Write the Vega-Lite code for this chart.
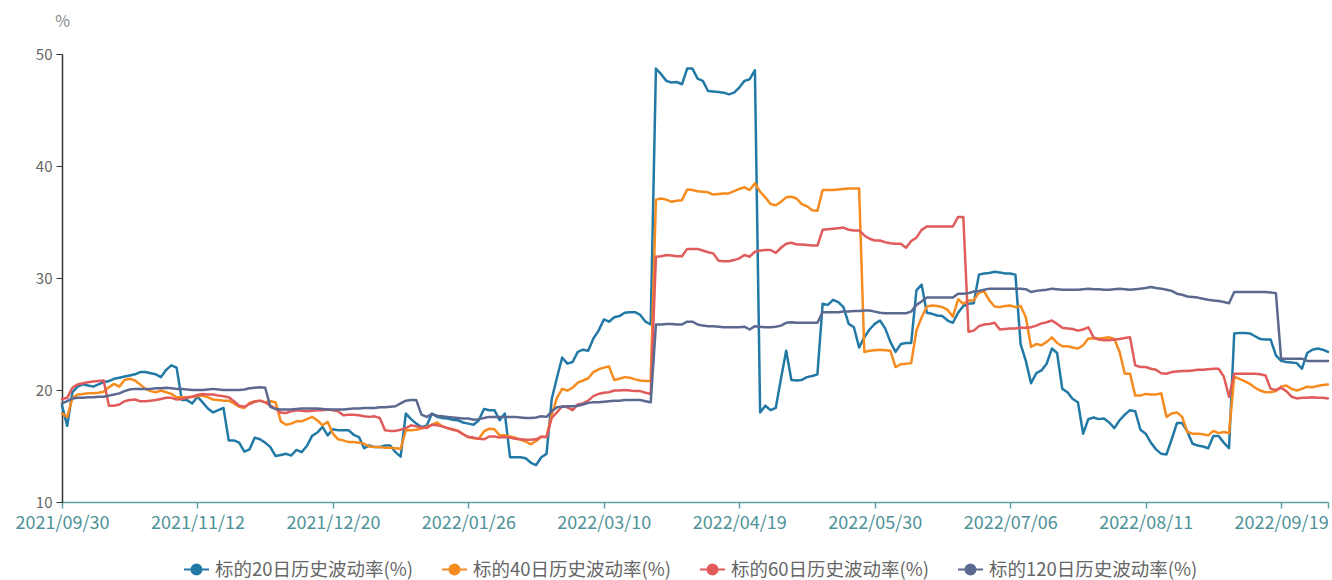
{
"$schema":"https://vega.github.io/schema/vega-lite/v6.json",
"width":1266,"height":448,
"autosize":{"type":"none"},
"padding":{"left":62,"top":54,"right":4,"bottom":78},
"background":"white",
"config":{"view":{"stroke":null},"font":"Noto Sans CJK SC"},
"data":{"values":[
{"d":"2021/09/30","a":18.6,"b":17.9,"c":19.2,"e":18.8},
{"d":"2021/10/08","a":16.8,"b":17.6,"c":19.3,"e":19.0},
{"d":"2021/10/11","a":19.8,"b":19.3,"c":20.2,"e":19.25},
{"d":"2021/10/12","a":20.3,"b":19.6,"c":20.5,"e":19.3},
{"d":"2021/10/13","a":20.5,"b":19.65,"c":20.6,"e":19.3},
{"d":"2021/10/14","a":20.4,"b":19.7,"c":20.7,"e":19.35},
{"d":"2021/10/15","a":20.3,"b":19.7,"c":20.75,"e":19.35},
{"d":"2021/10/18","a":20.5,"b":19.75,"c":20.8,"e":19.4},
{"d":"2021/10/19","a":20.7,"b":19.85,"c":20.85,"e":19.4},
{"d":"2021/10/20","a":20.8,"b":20.25,"c":18.6,"e":19.5},
{"d":"2021/10/21","a":21.0,"b":20.55,"c":18.6,"e":19.6},
{"d":"2021/10/22","a":21.1,"b":20.3,"c":18.7,"e":19.7},
{"d":"2021/10/25","a":21.2,"b":20.9,"c":19.0,"e":19.9},
{"d":"2021/10/26","a":21.3,"b":21.0,"c":19.1,"e":20.05},
{"d":"2021/10/27","a":21.4,"b":20.85,"c":19.15,"e":20.1},
{"d":"2021/10/28","a":21.6,"b":20.5,"c":19.0,"e":20.1},
{"d":"2021/10/29","a":21.6,"b":20.1,"c":19.0,"e":20.1},
{"d":"2021/11/01","a":21.5,"b":19.9,"c":19.05,"e":20.1},
{"d":"2021/11/02","a":21.4,"b":19.8,"c":19.1,"e":20.15},
{"d":"2021/11/03","a":21.15,"b":19.95,"c":19.2,"e":20.15},
{"d":"2021/11/04","a":21.8,"b":19.8,"c":19.3,"e":20.2},
{"d":"2021/11/05","a":22.2,"b":19.65,"c":19.3,"e":20.15},
{"d":"2021/11/08","a":22.0,"b":19.35,"c":19.15,"e":20.1},
{"d":"2021/11/09","a":19.1,"b":19.35,"c":19.2,"e":20.1},
{"d":"2021/11/10","a":19.1,"b":19.35,"c":19.3,"e":20.05},
{"d":"2021/11/11","a":18.8,"b":19.4,"c":19.4,"e":20.0},
{"d":"2021/11/12","a":19.4,"b":19.45,"c":19.55,"e":20.0},
{"d":"2021/11/15","a":18.9,"b":19.5,"c":19.65,"e":20.0},
{"d":"2021/11/16","a":18.35,"b":19.35,"c":19.6,"e":20.05},
{"d":"2021/11/17","a":18.0,"b":19.15,"c":19.6,"e":20.1},
{"d":"2021/11/18","a":18.2,"b":19.1,"c":19.5,"e":20.05},
{"d":"2021/11/19","a":18.4,"b":19.05,"c":19.45,"e":20.0},
{"d":"2021/11/22","a":15.5,"b":19.05,"c":19.35,"e":20.0},
{"d":"2021/11/23","a":15.5,"b":18.8,"c":19.0,"e":20.0},
{"d":"2021/11/24","a":15.3,"b":18.5,"c":18.6,"e":20.0},
{"d":"2021/11/25","a":14.5,"b":18.4,"c":18.5,"e":20.05},
{"d":"2021/11/26","a":14.7,"b":18.85,"c":18.75,"e":20.15},
{"d":"2021/11/29","a":15.75,"b":19.0,"c":18.95,"e":20.2},
{"d":"2021/11/30","a":15.6,"b":19.05,"c":19.05,"e":20.25},
{"d":"2021/12/01","a":15.3,"b":18.9,"c":18.9,"e":20.2},
{"d":"2021/12/02","a":14.9,"b":19.0,"c":18.6,"e":18.5},
{"d":"2021/12/03","a":14.1,"b":18.9,"c":18.35,"e":18.3},
{"d":"2021/12/06","a":14.2,"b":17.2,"c":18.0,"e":18.25},
{"d":"2021/12/07","a":14.3,"b":16.9,"c":17.95,"e":18.25},
{"d":"2021/12/08","a":14.15,"b":17.0,"c":18.1,"e":18.25},
{"d":"2021/12/09","a":14.65,"b":17.2,"c":18.2,"e":18.3},
{"d":"2021/12/10","a":14.45,"b":17.2,"c":18.15,"e":18.35},
{"d":"2021/12/13","a":15.0,"b":17.4,"c":18.1,"e":18.35},
{"d":"2021/12/14","a":15.9,"b":17.6,"c":18.15,"e":18.35},
{"d":"2021/12/15","a":16.2,"b":17.3,"c":18.2,"e":18.35},
{"d":"2021/12/16","a":16.7,"b":16.85,"c":18.2,"e":18.3},
{"d":"2021/12/17","a":15.95,"b":17.15,"c":18.25,"e":18.25},
{"d":"2021/12/20","a":16.5,"b":16.1,"c":18.2,"e":18.25},
{"d":"2021/12/21","a":16.4,"b":15.6,"c":18.1,"e":18.25},
{"d":"2021/12/22","a":16.4,"b":15.5,"c":17.75,"e":18.25},
{"d":"2021/12/23","a":16.4,"b":15.35,"c":17.8,"e":18.3},
{"d":"2021/12/24","a":16.0,"b":15.35,"c":17.8,"e":18.35},
{"d":"2021/12/27","a":15.8,"b":15.3,"c":17.75,"e":18.35},
{"d":"2021/12/28","a":14.8,"b":15.2,"c":17.65,"e":18.4},
{"d":"2021/12/29","a":15.05,"b":14.95,"c":17.6,"e":18.4},
{"d":"2021/12/30","a":14.9,"b":14.9,"c":17.65,"e":18.4},
{"d":"2021/12/31","a":14.9,"b":14.9,"c":17.5,"e":18.45},
{"d":"2022/01/04","a":15.05,"b":14.85,"c":16.4,"e":18.45},
{"d":"2022/01/05","a":15.05,"b":14.85,"c":16.35,"e":18.5},
{"d":"2022/01/06","a":14.45,"b":14.8,"c":16.35,"e":18.55},
{"d":"2022/01/07","a":14.05,"b":14.75,"c":16.45,"e":18.8},
{"d":"2022/01/10","a":17.9,"b":16.4,"c":16.6,"e":19.05},
{"d":"2022/01/11","a":17.4,"b":16.4,"c":16.85,"e":19.1},
{"d":"2022/01/12","a":17.0,"b":16.45,"c":16.75,"e":19.1},
{"d":"2022/01/13","a":16.7,"b":16.55,"c":16.65,"e":17.8},
{"d":"2022/01/14","a":16.8,"b":16.7,"c":16.6,"e":17.6},
{"d":"2022/01/17","a":17.9,"b":16.9,"c":16.9,"e":17.85},
{"d":"2022/01/18","a":17.6,"b":17.1,"c":16.85,"e":17.7},
{"d":"2022/01/19","a":17.5,"b":16.75,"c":16.75,"e":17.65},
{"d":"2022/01/20","a":17.45,"b":16.6,"c":16.6,"e":17.6},
{"d":"2022/01/21","a":17.35,"b":16.5,"c":16.45,"e":17.55},
{"d":"2022/01/24","a":17.3,"b":16.35,"c":16.35,"e":17.5},
{"d":"2022/01/25","a":17.1,"b":16.05,"c":16.05,"e":17.45},
{"d":"2022/01/26","a":17.0,"b":15.8,"c":15.8,"e":17.45},
{"d":"2022/01/27","a":16.9,"b":15.7,"c":15.75,"e":17.35},
{"d":"2022/01/28","a":17.3,"b":15.65,"c":15.65,"e":17.4},
{"d":"2022/02/07","a":18.3,"b":16.3,"c":15.6,"e":17.5},
{"d":"2022/02/08","a":18.2,"b":16.55,"c":15.85,"e":17.6},
{"d":"2022/02/09","a":18.2,"b":16.5,"c":15.85,"e":17.6},
{"d":"2022/02/10","a":17.3,"b":15.95,"c":15.75,"e":17.6},
{"d":"2022/02/11","a":17.9,"b":15.95,"c":15.8,"e":17.6},
{"d":"2022/02/14","a":14.0,"b":15.85,"c":15.75,"e":17.6},
{"d":"2022/02/15","a":14.0,"b":15.75,"c":15.65,"e":17.6},
{"d":"2022/02/16","a":14.0,"b":15.55,"c":15.6,"e":17.55},
{"d":"2022/02/17","a":13.9,"b":15.4,"c":15.55,"e":17.5},
{"d":"2022/02/18","a":13.5,"b":15.15,"c":15.55,"e":17.5},
{"d":"2022/02/21","a":13.3,"b":15.45,"c":15.6,"e":17.55},
{"d":"2022/02/22","a":14.0,"b":15.8,"c":15.85,"e":17.65},
{"d":"2022/02/23","a":14.3,"b":15.8,"c":15.8,"e":17.6},
{"d":"2022/02/24","a":19.2,"b":17.8,"c":17.5,"e":18.1},
{"d":"2022/02/25","a":21.1,"b":19.3,"c":18.0,"e":18.45},
{"d":"2022/02/28","a":22.9,"b":20.1,"c":18.55,"e":18.5},
{"d":"2022/03/01","a":22.35,"b":19.95,"c":18.45,"e":18.55},
{"d":"2022/03/02","a":22.5,"b":20.2,"c":18.2,"e":18.55},
{"d":"2022/03/03","a":23.4,"b":20.65,"c":18.7,"e":18.6},
{"d":"2022/03/04","a":23.6,"b":20.85,"c":18.8,"e":18.7},
{"d":"2022/03/07","a":23.5,"b":21.05,"c":19.05,"e":18.85},
{"d":"2022/03/08","a":24.6,"b":21.6,"c":19.45,"e":18.9},
{"d":"2022/03/09","a":25.3,"b":21.85,"c":19.65,"e":18.9},
{"d":"2022/03/10","a":26.3,"b":22.0,"c":19.75,"e":18.95},
{"d":"2022/03/11","a":26.1,"b":22.1,"c":19.8,"e":19.0},
{"d":"2022/03/14","a":26.5,"b":20.9,"c":19.95,"e":19.05},
{"d":"2022/03/15","a":26.6,"b":21.0,"c":19.95,"e":19.05},
{"d":"2022/03/16","a":26.9,"b":21.15,"c":20.0,"e":19.1},
{"d":"2022/03/17","a":26.95,"b":21.1,"c":19.95,"e":19.1},
{"d":"2022/03/18","a":26.95,"b":20.95,"c":19.9,"e":19.1},
{"d":"2022/03/21","a":26.7,"b":20.85,"c":19.9,"e":19.1},
{"d":"2022/03/22","a":26.1,"b":20.8,"c":19.75,"e":19.0},
{"d":"2022/03/23","a":25.85,"b":20.8,"c":19.65,"e":18.9},
{"d":"2022/03/24","a":48.7,"b":37.0,"c":31.9,"e":25.85},
{"d":"2022/03/25","a":48.2,"b":37.1,"c":31.95,"e":25.85},
{"d":"2022/03/28","a":47.6,"b":37.0,"c":32.05,"e":25.9},
{"d":"2022/03/29","a":47.45,"b":36.8,"c":32.0,"e":25.9},
{"d":"2022/03/30","a":47.5,"b":36.9,"c":31.95,"e":25.85},
{"d":"2022/03/31","a":47.3,"b":36.95,"c":31.95,"e":25.85},
{"d":"2022/04/01","a":48.7,"b":37.9,"c":32.6,"e":26.1},
{"d":"2022/04/06","a":48.7,"b":37.85,"c":32.6,"e":26.1},
{"d":"2022/04/07","a":47.8,"b":37.75,"c":32.6,"e":25.85},
{"d":"2022/04/08","a":47.6,"b":37.7,"c":32.45,"e":25.75},
{"d":"2022/04/11","a":46.7,"b":37.65,"c":32.3,"e":25.7},
{"d":"2022/04/12","a":46.65,"b":37.45,"c":32.2,"e":25.7},
{"d":"2022/04/13","a":46.6,"b":37.5,"c":31.55,"e":25.65},
{"d":"2022/04/14","a":46.55,"b":37.55,"c":31.5,"e":25.6},
{"d":"2022/04/15","a":46.4,"b":37.55,"c":31.5,"e":25.6},
{"d":"2022/04/18","a":46.55,"b":37.75,"c":31.6,"e":25.6},
{"d":"2022/04/19","a":47.0,"b":37.95,"c":31.75,"e":25.6},
{"d":"2022/04/20","a":47.6,"b":38.1,"c":32.05,"e":25.65},
{"d":"2022/04/21","a":47.75,"b":37.85,"c":31.9,"e":25.4},
{"d":"2022/04/22","a":48.55,"b":38.45,"c":32.35,"e":25.7},
{"d":"2022/04/25","a":18.0,"b":37.7,"c":32.45,"e":25.65},
{"d":"2022/04/26","a":18.6,"b":37.2,"c":32.5,"e":25.6},
{"d":"2022/04/27","a":18.2,"b":36.6,"c":32.5,"e":25.6},
{"d":"2022/04/28","a":18.4,"b":36.5,"c":32.25,"e":25.65},
{"d":"2022/04/29","a":21.0,"b":36.8,"c":32.7,"e":25.75},
{"d":"2022/05/05","a":23.5,"b":37.2,"c":33.05,"e":26.0},
{"d":"2022/05/06","a":20.9,"b":37.25,"c":33.15,"e":26.05},
{"d":"2022/05/09","a":20.85,"b":37.1,"c":33.0,"e":26.0},
{"d":"2022/05/10","a":20.9,"b":36.6,"c":33.0,"e":26.0},
{"d":"2022/05/11","a":21.15,"b":36.4,"c":32.95,"e":26.0},
{"d":"2022/05/12","a":21.25,"b":36.05,"c":32.9,"e":26.0},
{"d":"2022/05/13","a":21.4,"b":36.0,"c":32.9,"e":26.0},
{"d":"2022/05/16","a":27.7,"b":37.85,"c":34.3,"e":26.95},
{"d":"2022/05/17","a":27.6,"b":37.85,"c":34.35,"e":26.95},
{"d":"2022/05/18","a":28.05,"b":37.85,"c":34.4,"e":26.95},
{"d":"2022/05/19","a":27.85,"b":37.9,"c":34.45,"e":26.95},
{"d":"2022/05/20","a":27.4,"b":37.95,"c":34.5,"e":27.0},
{"d":"2022/05/23","a":25.9,"b":38.0,"c":34.3,"e":27.0},
{"d":"2022/05/24","a":25.6,"b":38.0,"c":34.25,"e":27.05},
{"d":"2022/05/25","a":23.8,"b":38.0,"c":34.25,"e":27.05},
{"d":"2022/05/26","a":24.7,"b":23.4,"c":33.8,"e":27.1},
{"d":"2022/05/27","a":25.4,"b":23.5,"c":33.5,"e":27.1},
{"d":"2022/05/30","a":25.9,"b":23.55,"c":33.35,"e":27.0},
{"d":"2022/05/31","a":26.2,"b":23.6,"c":33.35,"e":26.9},
{"d":"2022/06/01","a":25.5,"b":23.55,"c":33.2,"e":26.85},
{"d":"2022/06/02","a":24.3,"b":23.5,"c":33.1,"e":26.85},
{"d":"2022/06/06","a":23.4,"b":22.05,"c":33.05,"e":26.85},
{"d":"2022/06/07","a":24.1,"b":22.3,"c":33.05,"e":26.85},
{"d":"2022/06/08","a":24.2,"b":22.35,"c":32.7,"e":26.85},
{"d":"2022/06/09","a":24.2,"b":22.4,"c":33.3,"e":27.0},
{"d":"2022/06/10","a":28.9,"b":25.3,"c":33.6,"e":27.6},
{"d":"2022/06/13","a":29.4,"b":26.5,"c":34.3,"e":27.9},
{"d":"2022/06/14","a":26.9,"b":27.45,"c":34.6,"e":28.25},
{"d":"2022/06/15","a":26.8,"b":27.55,"c":34.6,"e":28.25},
{"d":"2022/06/16","a":26.65,"b":27.5,"c":34.6,"e":28.25},
{"d":"2022/06/17","a":26.6,"b":27.4,"c":34.6,"e":28.25},
{"d":"2022/06/20","a":26.2,"b":27.15,"c":34.6,"e":28.25},
{"d":"2022/06/21","a":26.0,"b":26.55,"c":34.6,"e":28.25},
{"d":"2022/06/22","a":26.9,"b":28.1,"c":35.45,"e":28.6},
{"d":"2022/06/23","a":27.5,"b":27.7,"c":35.45,"e":28.6},
{"d":"2022/06/24","a":27.7,"b":28.0,"c":25.2,"e":28.65},
{"d":"2022/06/27","a":27.75,"b":28.0,"c":25.3,"e":28.8},
{"d":"2022/06/28","a":30.3,"b":28.7,"c":25.7,"e":28.85},
{"d":"2022/06/29","a":30.4,"b":28.8,"c":25.85,"e":28.95},
{"d":"2022/06/30","a":30.45,"b":28.0,"c":25.9,"e":29.05},
{"d":"2022/07/01","a":30.55,"b":27.45,"c":26.0,"e":29.05},
{"d":"2022/07/04","a":30.5,"b":27.4,"c":25.4,"e":29.05},
{"d":"2022/07/05","a":30.4,"b":27.5,"c":25.45,"e":29.05},
{"d":"2022/07/06","a":30.4,"b":27.55,"c":25.5,"e":29.05},
{"d":"2022/07/07","a":30.3,"b":27.4,"c":25.5,"e":29.05},
{"d":"2022/07/08","a":24.1,"b":27.5,"c":25.55,"e":29.05},
{"d":"2022/07/11","a":22.6,"b":26.5,"c":25.55,"e":29.0},
{"d":"2022/07/12","a":20.6,"b":23.85,"c":25.6,"e":28.75},
{"d":"2022/07/13","a":21.5,"b":24.1,"c":25.75,"e":28.85},
{"d":"2022/07/14","a":21.75,"b":24.0,"c":25.95,"e":28.9},
{"d":"2022/07/15","a":22.35,"b":24.3,"c":26.05,"e":28.95},
{"d":"2022/07/18","a":23.7,"b":24.7,"c":26.2,"e":29.05},
{"d":"2022/07/19","a":23.3,"b":24.2,"c":25.9,"e":29.0},
{"d":"2022/07/20","a":20.1,"b":23.9,"c":25.55,"e":28.95},
{"d":"2022/07/21","a":19.8,"b":23.9,"c":25.5,"e":28.95},
{"d":"2022/07/22","a":19.2,"b":23.8,"c":25.45,"e":28.95},
{"d":"2022/07/25","a":18.9,"b":23.7,"c":25.3,"e":28.95},
{"d":"2022/07/26","a":16.1,"b":24.0,"c":25.4,"e":29.0},
{"d":"2022/07/27","a":17.4,"b":24.6,"c":25.6,"e":29.05},
{"d":"2022/07/28","a":17.55,"b":24.6,"c":24.7,"e":29.0},
{"d":"2022/07/29","a":17.4,"b":24.6,"c":24.5,"e":29.0},
{"d":"2022/08/01","a":17.45,"b":24.65,"c":24.45,"e":28.95},
{"d":"2022/08/02","a":17.1,"b":24.7,"c":24.45,"e":28.95},
{"d":"2022/08/03","a":16.6,"b":24.55,"c":24.5,"e":29.0},
{"d":"2022/08/04","a":17.3,"b":23.4,"c":24.55,"e":29.05},
{"d":"2022/08/05","a":17.8,"b":21.45,"c":24.65,"e":29.0},
{"d":"2022/08/08","a":18.2,"b":21.45,"c":24.7,"e":28.95},
{"d":"2022/08/09","a":18.1,"b":19.5,"c":22.2,"e":29.0},
{"d":"2022/08/10","a":16.45,"b":19.5,"c":22.05,"e":29.05},
{"d":"2022/08/11","a":16.1,"b":19.65,"c":22.05,"e":29.1},
{"d":"2022/08/12","a":15.3,"b":19.6,"c":21.9,"e":29.2},
{"d":"2022/08/15","a":14.7,"b":19.6,"c":21.8,"e":29.1},
{"d":"2022/08/16","a":14.3,"b":19.7,"c":21.5,"e":29.05},
{"d":"2022/08/17","a":14.25,"b":17.6,"c":21.45,"e":28.95},
{"d":"2022/08/18","a":15.6,"b":17.9,"c":21.6,"e":28.85},
{"d":"2022/08/19","a":17.05,"b":18.0,"c":21.65,"e":28.6},
{"d":"2022/08/22","a":17.05,"b":17.6,"c":21.7,"e":28.5},
{"d":"2022/08/23","a":16.3,"b":16.25,"c":21.7,"e":28.35},
{"d":"2022/08/24","a":15.2,"b":16.1,"c":21.75,"e":28.3},
{"d":"2022/08/25","a":15.05,"b":16.1,"c":21.8,"e":28.25},
{"d":"2022/08/26","a":14.95,"b":16.05,"c":21.8,"e":28.15},
{"d":"2022/08/29","a":14.8,"b":15.95,"c":21.85,"e":28.05},
{"d":"2022/08/30","a":15.9,"b":16.35,"c":21.9,"e":28.0},
{"d":"2022/08/31","a":15.9,"b":16.15,"c":21.9,"e":27.95},
{"d":"2022/09/01","a":15.3,"b":16.25,"c":21.2,"e":27.85},
{"d":"2022/09/02","a":14.8,"b":16.15,"c":19.4,"e":27.75},
{"d":"2022/09/05","a":25.05,"b":21.2,"c":21.45,"e":28.75},
{"d":"2022/09/06","a":25.1,"b":21.0,"c":21.45,"e":28.75},
{"d":"2022/09/07","a":25.1,"b":20.8,"c":21.45,"e":28.75},
{"d":"2022/09/08","a":25.05,"b":20.55,"c":21.45,"e":28.75},
{"d":"2022/09/09","a":24.8,"b":20.2,"c":21.45,"e":28.75},
{"d":"2022/09/13","a":24.55,"b":19.95,"c":21.4,"e":28.75},
{"d":"2022/09/14","a":24.5,"b":19.8,"c":21.3,"e":28.75},
{"d":"2022/09/15","a":24.5,"b":19.8,"c":20.1,"e":28.7},
{"d":"2022/09/16","a":23.1,"b":19.9,"c":20.0,"e":28.65},
{"d":"2022/09/19","a":22.6,"b":20.3,"c":20.2,"e":22.8},
{"d":"2022/09/20","a":22.5,"b":20.4,"c":19.9,"e":22.8},
{"d":"2022/09/21","a":22.45,"b":20.1,"c":19.4,"e":22.8},
{"d":"2022/09/22","a":22.4,"b":19.95,"c":19.25,"e":22.8},
{"d":"2022/09/23","a":21.9,"b":20.1,"c":19.3,"e":22.8},
{"d":"2022/09/26","a":23.3,"b":20.3,"c":19.3,"e":22.6},
{"d":"2022/09/27","a":23.6,"b":20.25,"c":19.35,"e":22.6},
{"d":"2022/09/28","a":23.7,"b":20.35,"c":19.3,"e":22.6},
{"d":"2022/09/29","a":23.6,"b":20.45,"c":19.3,"e":22.6},
{"d":"2022/09/30","a":23.4,"b":20.5,"c":19.25,"e":22.6}
]},
"transform":[{"fold":["a","b","c","e"],"as":["k","v"]}],
"mark":{"type":"line","strokeWidth":2.5,"strokeCap":"round","strokeJoin":"round"},
"encoding":{
"x":{"field":"d","type":"ordinal","sort":null,"scale":{"type":"point","padding":0},
"axis":{"values":["2021/09/30","2021/11/12","2021/12/20","2022/01/26","2022/03/10","2022/04/19","2022/05/30","2022/07/06","2022/08/11","2022/09/19","2022/09/30"],
"labelExpr":"datum.value == '2022/09/30' ? '' : datum.label","labelAngle":0,"title":null,"grid":false,
"domainColor":"#5f9ea5","domainWidth":1.5,"tickColor":"#5f9ea5","tickWidth":1.5,"tickSize":6,
"labelColor":"#4e9298","labelFontSize":18,"labelPadding":6,"labelFont":"Noto Sans CJK SC"}},
"y":{"field":"v","type":"quantitative","scale":{"domain":[10,50],"nice":false,"zero":false},
"axis":{"values":[10,20,30,40,50],"grid":false,"title":"%","titleAngle":0,"titleX":0,"titleY":-33,"titleAlign":"center","titleBaseline":"middle",
"titleColor":"#888888","titleFontSize":16,"titleFontWeight":"normal","labelColor":"#666666","labelFontSize":15,
"domainColor":"#333333","domainWidth":1.5,"tickColor":"#333333","tickSize":6,"labelPadding":4}},
"color":{"field":"k","type":"nominal","scale":{"domain":["a","b","c","e"],"range":["#2379a6","#f68b1f","#e15b5b","#5b6991"]},
"legend":{"orient":"none","legendX":121,"legendY":502,"direction":"horizontal","columns":4,"title":null,"padding":0,
"labelExpr":"datum.label == 'a' ? '标的20日历史波动率(%)' : datum.label == 'b' ? '标的40日历史波动率(%)' : datum.label == 'c' ? '标的60日历史波动率(%)' : '标的120日历史波动率(%)'",
"symbolType":"M-1,0H1M0.4,0A0.4,0.4,0,1,1,-0.4,0A0.4,0.4,0,1,1,0.4,0Z","symbolSize":625,"symbolStrokeWidth":2,
"labelFontSize":18.5,"labelLimit":400,"labelColor":"#666666","columnPadding":24,"labelOffset":5,
"encode":{"symbols":{"update":{"fill":{"scale":"color","field":"value"},"stroke":{"scale":"color","field":"value"}}}}}}
}
}
